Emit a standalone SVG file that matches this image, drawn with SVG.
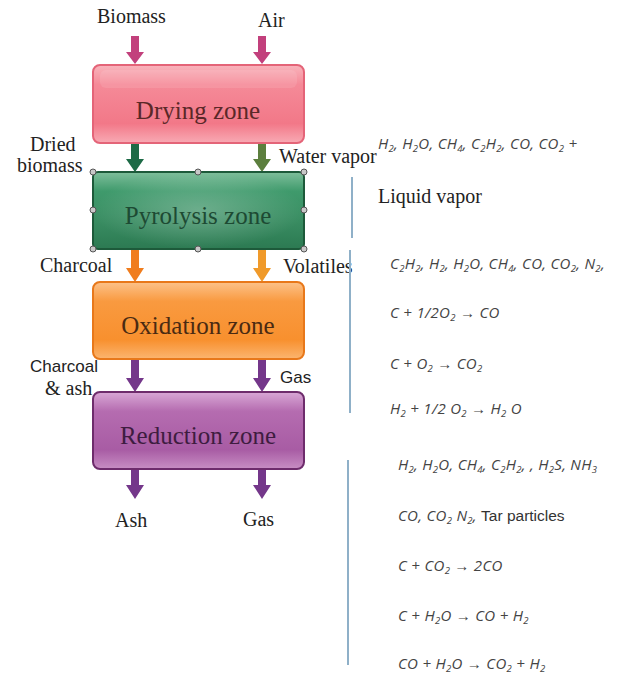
<svg xmlns="http://www.w3.org/2000/svg" width="619" height="675" viewBox="0 0 619 675">
<style>
.lbl{font-family:"Liberation Serif",serif;font-size:20px;fill:#222}
.lbs{font-family:"Liberation Sans",sans-serif;font-size:17px;fill:#222}
.zone{font-family:"Liberation Serif",serif;font-size:25px;text-anchor:middle}
.f{font-family:"Open Sans","Liberation Sans",sans-serif;font-style:italic;font-size:15px;letter-spacing:0.3px;fill:#444}
.s{font-size:9.5px}
.plain{font-family:"Liberation Sans",sans-serif;font-style:normal;font-size:15.5px;letter-spacing:0;fill:#333}
.vl{stroke:#8fb0c8;stroke-width:2}
.hd{fill:#c8c8c8;stroke:#555;stroke-width:1}
</style>
<defs>
<linearGradient id="gDry" x1="0" y1="0" x2="0" y2="1">
<stop offset="0" stop-color="#f9b4bc"/><stop offset="0.25" stop-color="#f58a98"/><stop offset="0.75" stop-color="#f27888"/><stop offset="1" stop-color="#f8aab4"/>
</linearGradient>
<linearGradient id="gPyr" x1="0" y1="0" x2="0" y2="1">
<stop offset="0" stop-color="#7fbf9c"/><stop offset="0.25" stop-color="#3f9a6c"/><stop offset="0.6" stop-color="#3a8e63"/><stop offset="1" stop-color="#2c7a52"/>
</linearGradient>
<linearGradient id="gOxi" x1="0" y1="0" x2="0" y2="1">
<stop offset="0" stop-color="#fcc28a"/><stop offset="0.25" stop-color="#f99a40"/><stop offset="0.75" stop-color="#f8902e"/><stop offset="1" stop-color="#fbb570"/>
</linearGradient>
<linearGradient id="gRed" x1="0" y1="0" x2="0" y2="1">
<stop offset="0" stop-color="#d9a8d6"/><stop offset="0.25" stop-color="#b56cb0"/><stop offset="0.75" stop-color="#a85ca4"/><stop offset="1" stop-color="#c88ec4"/>
</linearGradient>
<radialGradient id="gShine" cx="0.5" cy="0.5" r="0.5">
<stop offset="0" stop-color="#fff" stop-opacity="0.25"/><stop offset="1" stop-color="#fff" stop-opacity="0"/>
</radialGradient>
</defs>

<g id="connectors">
<path fill="#c2407c" d="M131 36H139V52H144L135 64L126 52H131Z"/>
<path fill="#c2407c" d="M258 36H266V52H271L262 64L253 52H258Z"/>
<path fill="#1d6a46" d="M131 143H139V159H144L135 172L126 159H131Z"/>
<path fill="#5c7f3e" d="M258 143H266V159H271L262 172L253 159H258Z"/>
<path fill="#f07d1e" d="M131 249H139V268H144L135 282L126 268H131Z"/>
<path fill="#f09a2a" d="M258 249H266V268H271L262 282L253 268H258Z"/>
<path fill="#74378a" d="M131 359H139V378H144L135 392L126 378H131Z"/>
<path fill="#74378a" d="M258 359H266V378H271L262 392L253 378H258Z"/>
<path fill="#74378a" d="M131 469H139V485H144L135 499L126 485H131Z"/>
<path fill="#74378a" d="M258 469H266V485H271L262 499L253 485H258Z"/>
</g>

<g id="labels">
<text class="lbl" x="97" y="23">Biomass</text>
<text class="lbl" x="258" y="27">Air</text>
<text class="lbl" x="30" y="151">Dried</text>
<text class="lbl" x="17" y="172">biomass</text>
<text class="lbl" x="279" y="163" font-size="19">Water vapor</text>
<text class="lbl" x="40" y="272">Charcoal</text>
<text class="lbl" x="283" y="273" font-size="19">Volatiles</text>
<text class="lbs" x="30" y="372" font-size="16.5">Charcoal</text>
<text class="lbl" x="45" y="395" font-size="19">&amp; ash</text>
<text class="lbs" x="280" y="383" font-size="18">Gas</text>
<text class="lbl" x="115" y="527">Ash</text>
<text class="lbl" x="243" y="526">Gas</text>
</g>

<g id="drying">
<rect x="93" y="65" width="211" height="78" rx="7" fill="url(#gDry)" stroke="#e46478" stroke-width="2"/>
<rect x="100" y="70" width="197" height="18" rx="6" fill="#fff" opacity="0.1"/>
<text class="zone" x="198" y="119" fill="#5a2828">Drying zone</text>
</g>

<g id="pyrolysis">
<rect x="93" y="172" width="211" height="77" rx="5" fill="url(#gPyr)" stroke="#1d5a3a" stroke-width="2"/>
<rect x="93" y="172" width="211" height="77" fill="url(#gShine)"/>
<text class="zone" x="198" y="224" fill="#1d4a33">Pyrolysis zone</text>
<circle class="hd" cx="93" cy="172" r="3"/><circle class="hd" cx="198" cy="172" r="3"/><circle class="hd" cx="304" cy="172" r="3"/>
<circle class="hd" cx="93" cy="210" r="3"/><circle class="hd" cx="304" cy="210" r="3"/>
<circle class="hd" cx="93" cy="249" r="3"/><circle class="hd" cx="198" cy="249" r="3"/><circle class="hd" cx="304" cy="249" r="3"/>
</g>

<g id="oxidation">
<rect x="93" y="282" width="211" height="77" rx="7" fill="url(#gOxi)" stroke="#e8781a" stroke-width="2"/>
<text class="zone" x="198" y="334" fill="#4a2a12">Oxidation zone</text>
</g>

<g id="reduction">
<rect x="93" y="392" width="211" height="77" rx="7" fill="url(#gRed)" stroke="#6e2c6c" stroke-width="2"/>
<text class="zone" x="198" y="444" fill="#3e1c40">Reduction zone</text>
</g>

<g id="annotations">
<line class="vl" x1="352" y1="177" x2="352" y2="238"/>
<line class="vl" x1="350" y1="250" x2="350" y2="413"/>
<line class="vl" x1="348" y1="460" x2="348" y2="665"/>

<text class="f" x="378" y="149">H<tspan class="s" dy="3">2</tspan><tspan dy="-3">, H</tspan><tspan class="s" dy="3">2</tspan><tspan dy="-3">O, CH</tspan><tspan class="s" dy="3">4</tspan><tspan dy="-3">, C</tspan><tspan class="s" dy="3">2</tspan><tspan dy="-3">H</tspan><tspan class="s" dy="3">2</tspan><tspan dy="-3">, CO, CO</tspan><tspan class="s" dy="3">2</tspan><tspan dy="-3"> +</tspan></text>
<text class="lbl" x="378" y="203" font-size="19">Liquid vapor</text>

<text class="f" x="390" y="269">C<tspan class="s" dy="3">2</tspan><tspan dy="-3">H</tspan><tspan class="s" dy="3">2</tspan><tspan dy="-3">, H</tspan><tspan class="s" dy="3">2</tspan><tspan dy="-3">, H</tspan><tspan class="s" dy="3">2</tspan><tspan dy="-3">O, CH</tspan><tspan class="s" dy="3">4</tspan><tspan dy="-3">, CO, CO</tspan><tspan class="s" dy="3">2</tspan><tspan dy="-3">, N</tspan><tspan class="s" dy="3">2</tspan><tspan dy="-3">,</tspan></text>
<text class="f" x="390" y="318">C + 1/2O<tspan class="s" dy="3">2</tspan><tspan dy="-3"> → CO</tspan></text>
<text class="f" x="390" y="369">C + O<tspan class="s" dy="3">2</tspan><tspan dy="-3"> →  CO</tspan><tspan class="s" dy="3">2</tspan></text>
<text class="f" x="390" y="414">H<tspan class="s" dy="3">2</tspan><tspan dy="-3"> + 1/2 O</tspan><tspan class="s" dy="3">2</tspan><tspan dy="-3"> →  H</tspan><tspan class="s" dy="3">2</tspan><tspan dy="-3"> O</tspan></text>

<text class="f" x="398" y="470">H<tspan class="s" dy="3">2</tspan><tspan dy="-3">, H</tspan><tspan class="s" dy="3">2</tspan><tspan dy="-3">O, CH</tspan><tspan class="s" dy="3">4</tspan><tspan dy="-3">, C</tspan><tspan class="s" dy="3">2</tspan><tspan dy="-3">H</tspan><tspan class="s" dy="3">2</tspan><tspan dy="-3">, , H</tspan><tspan class="s" dy="3">2</tspan><tspan dy="-3">S, NH</tspan><tspan class="s" dy="3">3</tspan></text>
<text class="f" x="398" y="521">CO, CO<tspan class="s" dy="3">2</tspan><tspan dy="-3"> N</tspan><tspan class="s" dy="3">2</tspan><tspan dy="-3">, </tspan><tspan class="plain">Tar particles</tspan></text>
<text class="f" x="398" y="571">C + CO<tspan class="s" dy="3">2</tspan><tspan dy="-3"> → 2CO</tspan></text>
<text class="f" x="398" y="621">C + H<tspan class="s" dy="3">2</tspan><tspan dy="-3">O → CO +  H</tspan><tspan class="s" dy="3">2</tspan></text>
<text class="f" x="398" y="669">CO + H<tspan class="s" dy="3">2</tspan><tspan dy="-3">O → CO</tspan><tspan class="s" dy="3">2</tspan><tspan dy="-3"> +  H</tspan><tspan class="s" dy="3">2</tspan></text>
</g>
</svg>
